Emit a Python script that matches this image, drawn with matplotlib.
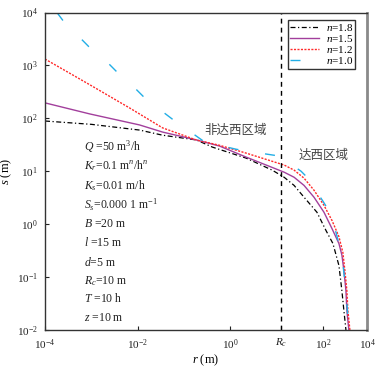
import matplotlib
matplotlib.use("Agg")
import matplotlib.pyplot as plt

plt.rcParams['font.family'] = ['Liberation Serif', 'Noto Sans CJK SC']
plt.rcParams['mathtext.fontset'] = 'custom'
plt.rcParams['mathtext.rm'] = 'Liberation Serif'
plt.rcParams['mathtext.it'] = 'Liberation Serif:italic'

# drawdown curves
r_18 = [1e-4, 1e-3, 0.011, 0.0345, 0.186, 0.41, 2.2, 8.0, 14.5, 23.8, 39, 74, 116, 164, 221, 256, 283, 313]
s_18 = [89, 77, 60, 48, 39, 28.6, 17.7, 10.5, 7.7, 5.4, 3.23, 1.68, 0.76, 0.43, 0.165, 0.055, 0.023, 0.01]

r_15 = [1e-4, 9.3e-4, 0.011, 0.0345, 0.186, 0.58, 2.2, 14.5, 23.8, 39, 64, 105, 156, 221, 256, 283, 313, 328, 362]
s_15 = [196, 121, 75, 55, 39, 30, 18.5, 9.6, 7.7, 5.4, 3.23, 1.68, 0.83, 0.43, 0.26, 0.133, 0.055, 0.023, 0.01]

r_12 = [1e-4, 9.3e-4, 0.0067, 0.0345, 0.186, 0.58, 2.2, 14.5, 23.8, 39, 64, 105, 156, 221, 269, 297, 328, 345, 381]
s_12 = [1320, 430, 157, 66, 38.9, 31, 22, 13.1, 10.5, 7.4, 4.38, 2.27, 1.18, 0.58, 0.29, 0.133, 0.055, 0.023, 0.01]

r_10 = [1.81e-4, 2.44e-4, 6.25e-4, 8.83e-4, 2.5e-3, 3.53e-3, 9.5e-3, 0.01346, 0.04, 0.0594,
        0.186, 0.276, 1.35, 6.25, 11.3, 33.7, 45.3, 100, 128, 191, 256, 313, 362]
s_10 = [10000, 7050, 3070, 2260, 1030, 759, 346, 255, 121, 93,
        46, 36, 26, 21, 19.4, 10.0, 7.7, 2.71, 1.91, 0.70, 0.26, 0.055, 0.01]

Rc_pos = 12.5   # where the Rc line sits on the drawn axis
x_right = 10 ** 2.95  # right edge, labelled 10^4 in the original

params = [r"$Q$ =50 m$^3$/h", r"$K_r$=0.1 m$^n$/h$^n$", r"$K_s$=0.01 m/h",
          r"$S_s$=0.000 1 m$^{-1}$", r"$B$ =20 m", r"$l$ =15 m", r"$d$=5 m",
          r"$R_c$=10 m", r"$T$ =10 h", r"$z$ =10 m"]

fig = plt.figure(figsize=(3.88, 3.71), dpi=100)
ax = fig.add_axes([45 / 388, 1 - 330 / 371, 322 / 388, 317.5 / 371])

ax.plot(r_18, s_18, color='black', lw=0.9, dashes=(4, 2, 1, 2), label=r'$n$=1.8')
ax.plot(r_15, s_15, color='#a23f9c', lw=1.0, label=r'$n$=1.5')
ax.plot(r_12, s_12, color='#ff2a2a', lw=1.0, dashes=(1.5, 1), label=r'$n$=1.2')
ax.plot(r_10, s_10, color='#22aee6', lw=1.0, dashes=(7.2, 19.4), label=r'$n$=1.0')

ax.axvline(Rc_pos, color='black', lw=1.0, dashes=(3.5, 3))

ax.set_xscale('log')
ax.set_yscale('log')
ax.set_xlim(1e-4, x_right)
ax.set_ylim(1e-2, 1e4)

ax.set_xticks([1e-4, 1e-2, 1, Rc_pos, 1e2, x_right])
ax.set_xticklabels([r'$10^{-4}$', r'$10^{-2}$', r'$10^{0}$', r'$R_c$', r'$10^{2}$', r'$10^{4}$'])
ax.set_yticks([1e-2, 1e-1, 1, 10, 1e2, 1e3, 1e4])
ax.set_yticklabels([r'$10^{-2}$', r'$10^{-1}$', r'$10^{0}$', r'$10^{1}$', r'$10^{2}$', r'$10^{3}$', r'$10^{4}$'])
ax.minorticks_off()
ax.tick_params(direction='in', length=3, width=0.8, labelsize=8, colors='#222222', pad=5)

for side in ['left', 'bottom', 'top']:
    ax.spines[side].set_color('#333333')
    ax.spines[side].set_linewidth(1.0)
ax.spines['right'].set_color('#8a8a8a')
ax.spines['right'].set_linewidth(2.0)

ax.set_xlabel(r'$r$ (m)', fontsize=9, labelpad=1)
ax.set_ylabel(r'$s$ (m)', fontsize=9, labelpad=2)

leg = ax.legend(loc='upper right', bbox_to_anchor=(0.963, 0.976), fontsize=8,
                frameon=True, fancybox=False, edgecolor='black', handlelength=2.6,
                handletextpad=0.6, labelspacing=0.0, borderpad=0.2, borderaxespad=0)
leg.get_frame().set_linewidth(1.0)

ys = [147, 166, 186, 205, 224, 243, 262, 281, 299, 318]
for txt, yp in zip(params, ys):
    fig.text(84 / 388, 1 - yp / 371, txt, fontsize=8.5, va='center', ha='left', color='#222222')

ax.text(236 / 388, 1 - 130 / 371, '非达西区域', transform=fig.transFigure, fontsize=9,
        family=['Noto Sans CJK SC'], color='#444444', ha='center', va='center')
ax.text(324 / 388, 1 - 155 / 371, '达西区域', transform=fig.transFigure, fontsize=9,
        family=['Noto Sans CJK SC'], color='#444444', ha='center', va='center')

fig.savefig('out.png', dpi=100)
